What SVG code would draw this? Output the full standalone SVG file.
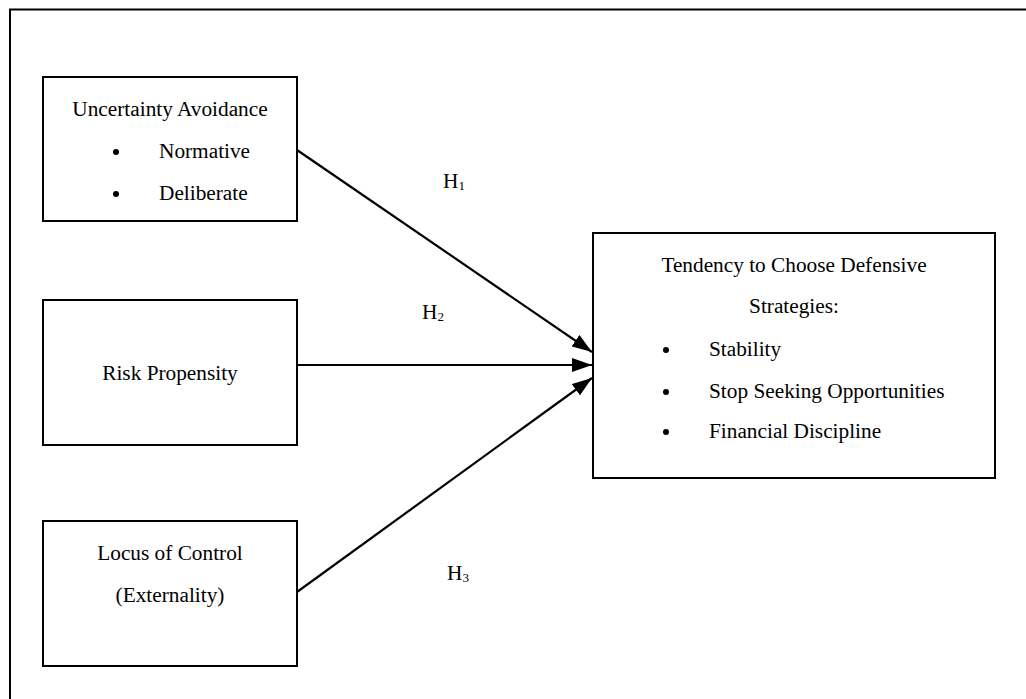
<svg xmlns="http://www.w3.org/2000/svg" width="1026" height="699" viewBox="0 0 1026 699">
<style>
.box{fill:#fff;stroke:#000;stroke-width:2}
.t{font-family:"Liberation Serif","Times New Roman",serif;font-size:21.3px;fill:#000}
.c{text-anchor:middle}
.edge{stroke:#000;stroke-width:2.2;fill:none}
</style>
<defs>
<marker id="ah" markerWidth="20" markerHeight="14" refX="20" refY="7" orient="auto" markerUnits="userSpaceOnUse">
<path d="M0,0 L20,7 L0,14 z" fill="#000"/>
</marker>
</defs>
<rect width="1026" height="699" fill="#fff"/>
<g id="frame"><path d="M10,705 V9.5 H1030" fill="none" stroke="#000" stroke-width="2"/></g>
<g id="n1">
<rect class="box" x="43" y="77" width="254" height="144"/>
<text class="t c" x="170" y="116">Uncertainty Avoidance</text>
<circle cx="116" cy="152" r="3"/>
<text class="t" x="159" y="158">Normative</text>
<circle cx="116" cy="194" r="3"/>
<text class="t" x="159" y="200">Deliberate</text>
</g>
<g id="n2">
<rect class="box" x="43" y="300" width="254" height="145"/>
<text class="t c" x="170" y="380">Risk Propensity</text>
</g>
<g id="n3">
<rect class="box" x="43" y="521" width="254" height="145"/>
<text class="t c" x="170" y="560">Locus of Control</text>
<text class="t c" x="170" y="602">(Externality)</text>
</g>
<g id="n4">
<rect class="box" x="593" y="233" width="402" height="245"/>
<text class="t c" x="794" y="272">Tendency to Choose Defensive</text>
<text class="t c" x="794" y="313">Strategies:</text>
<circle cx="666" cy="350" r="3"/>
<text class="t" x="709" y="356">Stability</text>
<circle cx="666" cy="392" r="3"/>
<text class="t" x="709" y="398">Stop Seeking Opportunities</text>
<circle cx="666" cy="432" r="3"/>
<text class="t" x="709" y="438">Financial Discipline</text>
</g>
<g id="connectors">
<line class="edge" x1="297" y1="150" x2="592" y2="352" marker-end="url(#ah)"/>
<line class="edge" x1="297" y1="365" x2="592" y2="365" marker-end="url(#ah)"/>
<line class="edge" x1="297" y1="592" x2="592" y2="378" marker-end="url(#ah)"/>
</g>
<g id="labels">
<text class="t" x="443" y="188">H<tspan font-size="13" dy="2">1</tspan></text>
<text class="t" x="422" y="319">H<tspan font-size="13" dy="2">2</tspan></text>
<text class="t" x="447" y="580">H<tspan font-size="13" dy="2">3</tspan></text>
</g>
</svg>
